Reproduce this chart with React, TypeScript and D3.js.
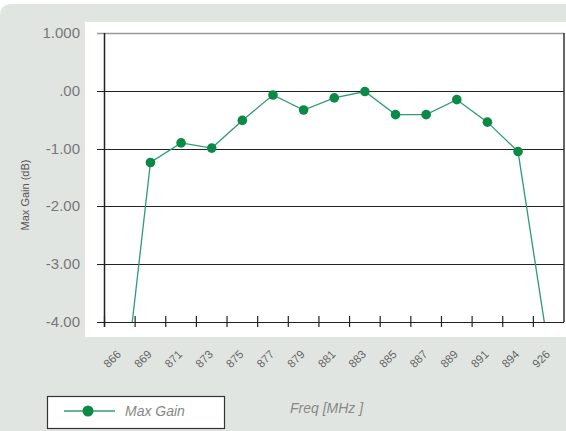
import React, { useEffect, useRef } from 'react';
import * as d3 from 'd3';

const freqs = ['866', '869', '871', '873', '875', '877', '879', '881', '883', '885', '887', '889', '891', '894', '926'];
const maxGain = [-5.9, -1.24, -0.9, -0.99, -0.51, -0.07, -0.33, -0.12, -0.01, -0.41, -0.41, -0.15, -0.54, -1.05, -4.5];
const yTicks = [1, 0, -1, -2, -3, -4];
const yTickLabels = ['1.000', '.00', '-1.00', '-2.00', '-3.00', '-4.00'];

const W = 566;
const H = 431;
const green = '#0b8a47';
const lineColor = '#2f9c72';

const App = () => {
  const ref = useRef<SVGSVGElement>(null);

  useEffect(() => {
    const svg = d3.select(ref.current);
    svg.selectAll('*').remove();

    const x = d3.scaleBand<string>().domain(freqs).range([104.5, 564]).padding(0);
    const y = d3.scaleLinear().domain([-4, 1]).range([321.7, 33.3]);

    // panel, only the top-left corner is rounded
    svg.append('path')
      .attr('d', `M0,${H} L0,16 Q0,4 12,4 L${W},4 L${W},${H} Z`)
      .attr('fill', '#e1e5e2');
    // plot background
    svg.append('rect').attr('x', 85).attr('y', 22).attr('width', W - 85).attr('height', 315)
      .attr('fill', '#ffffff');

    // gridlines
    svg.selectAll('line.grid').data(yTicks).enter().append('line')
      .attr('x1', 97).attr('x2', 564)
      .attr('y1', (d) => Math.round(y(d)) + 0.5).attr('y2', (d) => Math.round(y(d)) + 0.5)
      .attr('stroke', (d) => (d === 1 ? '#999' : '#222'))
      .attr('stroke-width', (d) => (d === 1 ? 1.5 : 1.2));

    // y tick labels
    svg.selectAll('text.ylab').data(yTicks).enter().append('text')
      .attr('x', 80).attr('y', (d) => y(d) + 5)
      .attr('text-anchor', 'end')
      .attr('font-family', 'Liberation Sans, Arial, sans-serif')
      .attr('font-size', 15)
      .attr('fill', '#777')
      .text((_, i) => yTickLabels[i]);

    // axes
    svg.append('line').attr('x1', 104.5).attr('x2', 104.5).attr('y1', 33).attr('y2', 327)
      .attr('stroke', '#222').attr('stroke-width', 1.5);
    svg.append('line').attr('x1', 564).attr('x2', 564).attr('y1', 33).attr('y2', 322)
      .attr('stroke', '#333').attr('stroke-width', 1.5);

    // x ticks at band boundaries
    const bounds = freqs.map((f) => x(f) as number);
    svg.selectAll('line.xtick').data(bounds).enter().append('line')
      .attr('x1', (d) => d).attr('x2', (d) => d)
      .attr('y1', 316).attr('y2', 327)
      .attr('stroke', '#222').attr('stroke-width', 1.2);

    // x labels
    svg.selectAll('text.xlab').data(freqs).enter().append('text')
      .attr('transform', (d) => `translate(${(x(d) as number) + x.bandwidth() / 2 + 2}, 355) rotate(-45)`)
      .attr('text-anchor', 'end')
      .attr('font-family', 'Liberation Sans, Arial, sans-serif')
      .attr('font-size', 11.5)
      .attr('fill', '#666')
      .text((d) => d);

    // clip
    svg.append('clipPath').attr('id', 'plotclip').append('rect')
      .attr('x', 104).attr('y', 30).attr('width', 460).attr('height', 292);

    const line = d3.line<number>()
      .x((_, i) => (x(freqs[i]) as number) + x.bandwidth() / 2)
      .y((d) => y(d));

    svg.append('path').datum(maxGain)
      .attr('d', line)
      .attr('clip-path', 'url(#plotclip)')
      .attr('fill', 'none')
      .attr('stroke', lineColor)
      .attr('stroke-width', 1.3);

    svg.selectAll('circle.pt').data(maxGain.map((v, i) => ({ v, i })).filter((d) => d.v >= -4 && d.v <= 1))
      .enter().append('circle')
      .attr('cx', (d) => (x(freqs[d.i]) as number) + x.bandwidth() / 2)
      .attr('cy', (d) => y(d.v))
      .attr('r', 4.8)
      .attr('fill', green);

    // y axis title
    svg.append('text')
      .attr('transform', 'translate(29, 195) rotate(-90)')
      .attr('text-anchor', 'middle')
      .attr('font-family', 'Liberation Sans, Arial, sans-serif')
      .attr('font-size', 11)
      .attr('fill', '#555')
      .text('Max Gain (dB)');

    // x axis title
    svg.append('text')
      .attr('x', 290).attr('y', 413)
      .attr('font-family', 'Liberation Sans, Arial, sans-serif')
      .attr('font-style', 'italic')
      .attr('font-size', 14)
      .attr('fill', '#888')
      .text('Freq [MHz ]');

    // legend
    const lg = svg.append('g');
    lg.append('rect').attr('x', 47.5).attr('y', 396.5).attr('width', 177).attr('height', 32)
      .attr('fill', '#fff').attr('stroke', '#333').attr('stroke-width', 1.2);
    lg.append('line').attr('x1', 64).attr('x2', 115).attr('y1', 411).attr('y2', 411)
      .attr('stroke', lineColor).attr('stroke-width', 1.3);
    lg.append('circle').attr('cx', 88).attr('cy', 411).attr('r', 5.5).attr('fill', green);
    lg.append('text').attr('x', 125).attr('y', 416)
      .attr('font-family', 'Liberation Sans, Arial, sans-serif')
      .attr('font-style', 'italic')
      .attr('font-size', 14)
      .attr('fill', '#888')
      .text('Max Gain');
  }, []);

  return (
    <svg ref={ref} width={W} height={H} style={{ position: 'absolute', left: 0, top: 0, background: '#fff' }} />
  );
};

export default App;
